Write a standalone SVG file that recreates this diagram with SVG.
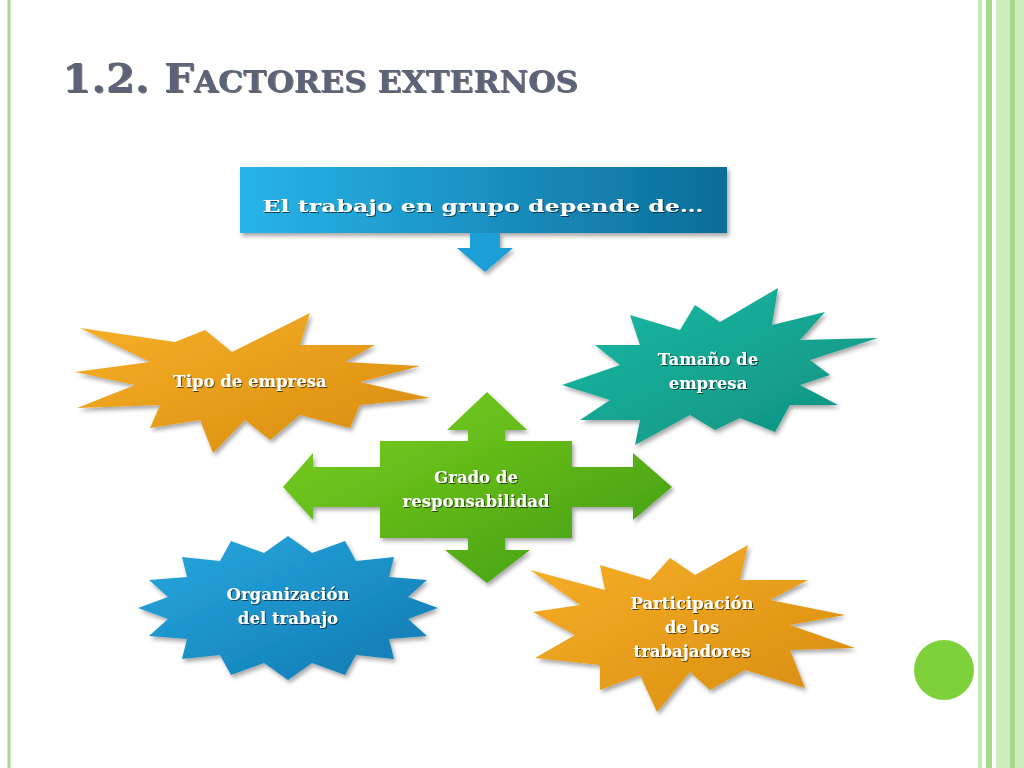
<svg xmlns="http://www.w3.org/2000/svg" width="1024" height="768" viewBox="0 0 1024 768">
<style>
.lbl{font-family:"DejaVu Serif","Liberation Serif",serif;font-weight:bold;fill:#fff;text-anchor:middle;font-size:16.5px;filter:url(#ts)}
.shape{filter:url(#sh)}
</style>
<defs>
<filter id="sh" x="-10%" y="-10%" width="120%" height="130%"><feDropShadow dx="2" dy="3" stdDeviation="2" flood-color="#000" flood-opacity="0.35"/></filter>
<filter id="ts"><feDropShadow dx="1" dy="1" stdDeviation="0.6" flood-color="#000" flood-opacity="0.6"/></filter>
<linearGradient id="gOr" x1="0" y1="0" x2="1" y2="1"><stop offset="0" stop-color="#f7b02a"/><stop offset="1" stop-color="#d78b0d"/></linearGradient>
<linearGradient id="gTe" x1="0" y1="0" x2="1" y2="1"><stop offset="0" stop-color="#1dbba5"/><stop offset="1" stop-color="#0d8f7e"/></linearGradient>
<linearGradient id="gBl" x1="0" y1="0" x2="1" y2="1"><stop offset="0" stop-color="#29a9e0"/><stop offset="1" stop-color="#0f78b0"/></linearGradient>
<linearGradient id="gGr" x1="0" y1="0" x2="1" y2="1"><stop offset="0" stop-color="#7ed321"/><stop offset="1" stop-color="#3f9a0e"/></linearGradient>
<linearGradient id="gBox" x1="0" y1="0" x2="1" y2="0"><stop offset="0" stop-color="#28b4ea"/><stop offset="1" stop-color="#0c6d98"/></linearGradient>
</defs>
<rect width="1024" height="768" fill="#fff"/>
<line x1="9" y1="0" x2="9" y2="768" stroke="#a8d88a" stroke-width="3"/>
<rect x="978" y="0" width="4" height="768" fill="#c6e8b0"/>
<rect x="986" y="0" width="6" height="768" fill="#a8d88a"/>
<rect x="996" y="0" width="28" height="768" fill="#cfeec0"/>
<rect x="1010" y="0" width="5" height="768" fill="#a8d88a"/>
<text x="62" y="92" font-family="DejaVu Serif,Liberation Serif,serif" fill="#5c6478" style="filter:url(#ts)" font-size="40" font-weight="bold" textLength="516" lengthAdjust="spacingAndGlyphs">1.2. F<tspan font-size="30">ACTORES EXTERNOS</tspan></text>

<g id="top">
<rect class="shape" x="240" y="167" width="487" height="66" fill="url(#gBox)"/>
<polygon class="shape" points="470,233 500,233 500,248 513,248 485,272 457,248 470,248" fill="#1f9fd6"/>
<text class="lbl" x="483" y="212" font-size="21" textLength="441" lengthAdjust="spacingAndGlyphs">El trabajo en grupo depende de…</text>
</g>
<g id="center">
<polygon class="shape" fill="url(#gGr)" points="487,392 527,430 505,430 505,441 572,441 572,467 633,467 633,453 672,487 633,520 633,507 572,507 572,538 505,538 505,550 530,550 487,583 445,550 468,550 468,538 380,538 380,507 313,507 313,520 283,487 313,453 313,467 380,467 380,441 468,441 468,430 447,430"/>
<text class="lbl" x="476" y="483">Grado de</text>
<text class="lbl" x="476" y="507">responsabilidad</text>
</g>
<g id="tipo">
<polygon class="shape" fill="url(#gOr)" points="75,372 150,362 80,328 175,342 205,330 232,352 310,313 300,345 375,345 345,362 420,366 360,382 430,398 360,405 350,428 300,415 270,440 245,420 213,453 200,420 150,428 160,405 77,408 135,385"/>
<text class="lbl" x="250" y="387">Tipo de empresa</text>
</g>
<g id="tamano">
<polygon class="shape" fill="url(#gTe)" points="562,385 620,365 595,345 640,345 630,315 680,330 695,305 720,322 778,288 772,325 825,312 800,340 878,338 810,360 830,375 800,385 838,405 790,405 775,432 740,418 715,430 690,415 635,445 640,420 580,420 610,400"/>
<text class="lbl" x="708" y="365">Tamaño de</text>
<text class="lbl" x="708" y="389">empresa</text>
</g>
<g id="organizacion">
<polygon class="shape" fill="url(#gBl)" points="438,608 408,619 427,636 389,639 394,659 356,655 345,675 312,663 288,680 264,663 231,675 220,655 182,659 187,639 149,636 168,619 138,608 168,597 149,580 187,577 182,557 220,561 231,541 264,553 288,536 312,553 345,541 356,561 394,557 389,577 427,580 408,597"/>
<text class="lbl" x="288" y="600">Organización</text>
<text class="lbl" x="288" y="624">del trabajo</text>
</g>
<g id="participacion">
<polygon class="shape" fill="url(#gOr)" points="530,570 605,590 600,565 650,580 670,558 695,575 748,545 740,580 808,580 770,600 845,615 790,625 855,648 790,650 805,688 745,670 710,690 690,672 657,712 640,675 600,690 600,665 535,658 575,635 533,612 580,605"/>
<text class="lbl" x="692" y="609">Participación</text>
<text class="lbl" x="692" y="633">de los</text>
<text class="lbl" x="692" y="657">trabajadores</text>
</g>
<circle cx="944" cy="670" r="30" fill="#7ed13a"/>
<g id="connectors"/>
</svg>
